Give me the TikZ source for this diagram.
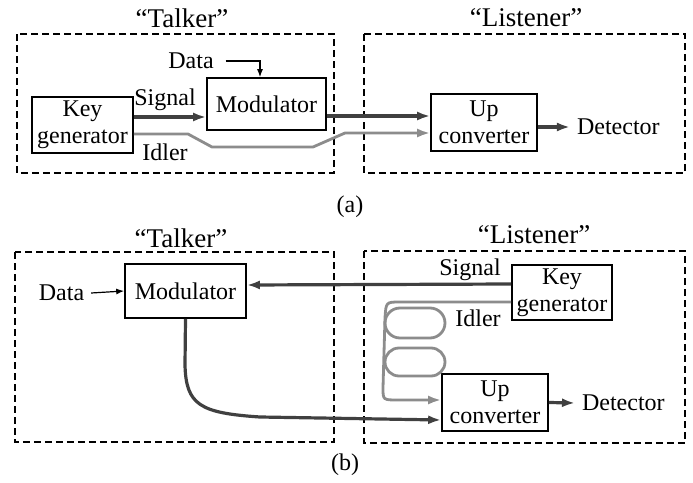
\documentclass[tikz,border=0pt]{standalone}
\usepackage{fontspec}
\setmainfont{Liberation Serif}
\usetikzlibrary{arrows.meta}
\tikzset{
  block/.style={rectangle, draw=black, thick, fill=white, align=center, inner sep=1pt, font=\fontsize{12}{13.5}\selectfont},
  txt/.style={font=\fontsize{12}{13.5}\selectfont},
  ttl/.style={font=\fontsize{13.5}{15}\selectfont},
  partybox/.style={draw=black, dash pattern=on 3.5pt off 2pt, line width=0.9pt},
  sigline/.style={draw=black!75, line width=1.6pt, -{Latex[length=6.5pt,width=4.5pt]}},
  idline/.style={draw=black!45, line width=1.4pt, -{Latex[length=6.5pt,width=4.5pt]}},
  dataline/.style={draw=black, line width=0.6pt, -{Latex[length=4pt,width=3pt]}}
}

\begin{document}
\begin{tikzpicture}[x=0.5pt, y=-0.5pt]
  \useasboundingbox (0,0) rectangle (693,483);

  % 1. Esquema (a)
  \draw[partybox] (17,34) rectangle (334,173);
  \draw[partybox] (364,34) rectangle (685,173);
  \node[ttl] (TalkA) at (182,18) {“Talker”};
  \node[ttl] (ListA) at (526,18) {“Listener”};

  \node[block, minimum width=50.5pt, minimum height=28pt] (KeyA) at (82.5,125) {Key\\generator};
  \node[block, minimum width=59.5pt, minimum height=26pt] (ModA) at (266.5,104) {Modulator};
  \node[block, minimum width=53pt, minimum height=28.5pt] (UpA) at (484,122.5) {Up\\converter};
  \node[txt] (DataA) at (191,61) {Data};
  \node[txt, anchor=west] (DetA) at (570,127) {Detector};
  \node[txt] (SigA) at (165,100) {Signal};
  \node[txt] (IdlA) at (165,152) {Idler};

  \draw[dataline] ([xshift=2.5pt]DataA.east) -| ([xshift=-3.25pt]ModA.north);
  \draw[sigline] ([yshift=4pt]KeyA.east) -- ([yshift=-6.5pt]ModA.west);
  \draw[sigline] ([yshift=-6pt]ModA.east) -- ([yshift=3.25pt]UpA.west);
  \draw[idline] ([yshift=-4.5pt]KeyA.east) -- (188,134) -- (212,147) -- (313,147)
    -- (345,133) -- ([yshift=-5.25pt]UpA.west);
  \draw[sigline] ([yshift=-2.25pt]UpA.east) -- (DetA.west);

  \node[txt] (CapA) at (350,207) {(a)};

  % 2. Esquema (b)
  \draw[partybox, line width=0.6pt] (15,252) rectangle (334,442);
  \draw[partybox, line width=0.6pt] (364,251) rectangle (685,443);
  \node[ttl] (TalkB) at (181,238) {“Talker”};
  \node[ttl] (ListB) at (534,235) {“Listener”};

  \node[block, minimum width=60.5pt, minimum height=27pt] (ModB) at (185.5,291) {Modulator};
  \node[block, minimum width=50pt, minimum height=27.5pt] (KeyB) at (562,292.5) {Key\\generator};
  \node[block, minimum width=53pt, minimum height=28.5pt] (UpB) at (495,402.5) {Up\\converter};
  \node[txt] (DataB) at (61.5,293) {Data};
  \node[txt, anchor=west] (DetB) at (575,403) {Detector};
  \node[txt] (SigB) at (470,270) {Signal};
  \node[txt] (IdlB) at (478,318) {Idler};

  \draw[dataline] (DataB.east) -- (ModB.west);
  \draw[sigline] ([yshift=4.25pt]KeyB.west) -- ([yshift=3pt]ModB.east);
  \draw[sigline] (ModB.south) -- (185,365) .. controls (186,405) and (200,413) .. (260,417)
    -- ([yshift=-8.75pt]UpB.west);

  % Bobina de fibra del idler
  \draw[idline] ([yshift=-4.75pt]KeyB.west) -- (400,302) .. controls (386,302) .. (385,318)
    -- (383,388) .. controls (383,400) .. (398,400) -- ([yshift=1.25pt]UpB.west);
  \draw[idline, -, rounded corners=7.5pt] (385,308) rectangle (445,338);
  \draw[idline, -, rounded corners=7pt] (385,348) rectangle (445,376);

  \draw[sigline] (UpB.east) -- (DetB.west);

  \node[txt] (CapB) at (345,465) {(b)};
\end{tikzpicture}
\end{document}
